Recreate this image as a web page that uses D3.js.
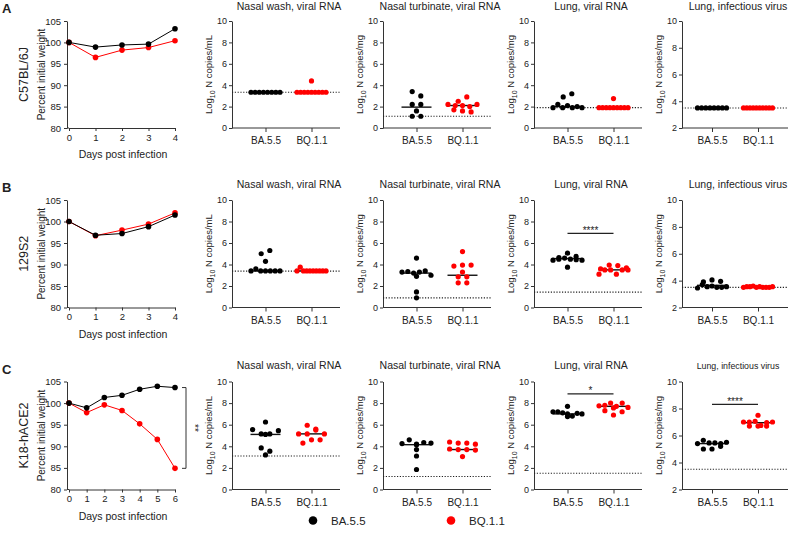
<!DOCTYPE html>
<html><head><meta charset="utf-8">
<script src="https://cdn.jsdelivr.net/npm/d3@7"></script>
<style>
body{margin:0;background:#fff}
svg{display:block}
text{font-family:"Liberation Sans",Arial,Helvetica,sans-serif;fill:#222}
</style>
</head><body>
<svg id="c" width="790" height="545"></svg>
<script>
// ---------------- data ----------------
const variants = ["BA.5.5", "BQ.1.1"];
const strains = ["C57BL/6J", "129S2", "K18-hACE2"];
const rowLetters = ["A", "B", "C"];
const panelTitles = ["Nasal wash, viral RNA", "Nasal turbinate, viral RNA", "Lung, viral RNA", "Lung, infectious virus"];
const yUnits = ["copies/mL", "copies/mg", "copies/mg", "copies/mg"];
const weightTicks = [80, 85, 90, 95, 100, 105];
const logTicks = [0, 2, 4, 6, 8, 10];
const infTicks = [2, 4, 6, 8, 10];

const daysA = [0, 1, 2, 3, 4];
const weightA_BA55 = [100, 98.9, 99.4, 99.6, 103.2];
const weightA_BQ11 = [100, 96.5, 98.2, 98.8, 100.4];
const daysB = [0, 1, 2, 3, 4];
const weightB_BA55 = [100, 96.8, 97.2, 98.8, 101.5];
const weightB_BQ11 = [100, 96.7, 98.0, 99.4, 102.0];
const daysC = [0, 1, 2, 3, 4, 5, 6];
const weightC_BA55 = [100, 98.9, 101.3, 101.8, 103.2, 103.9, 103.6];
const weightC_BQ11 = [100, 97.8, 99.6, 98.3, 95.2, 91.6, 84.9];

// Row A (C57BL/6J)
const A_wash_BA55 = [3.34, 3.34, 3.34, 3.34, 3.34, 3.34, 3.34, 3.34];
const A_wash_BQ11 = [3.34, 3.34, 3.34, 3.34, 4.4, 3.34, 3.34, 3.34, 3.34, 3.34];
const A_turb_BA55 = [1.1, 2.2, 3.4, 3.0, 1.6, 2.2, 1.1];
const A_turb_BQ11 = [2.2, 1.7, 2.1, 2.5, 2.9, 2.1, 2.0, 1.6, 2.2, 1.5];
const A_lung_BA55 = [1.9, 2.2, 2.9, 1.9, 2.1, 3.2, 1.9, 2.0, 1.9];
const A_lung_BQ11 = [1.9, 1.9, 1.9, 1.9, 2.75, 1.9, 1.9, 1.9, 1.9, 1.9];
const A_inf_BA55 = [3.5, 3.5, 3.5, 3.5, 3.5, 3.5, 3.5, 3.5];
const A_inf_BQ11 = [3.5, 3.5, 3.5, 3.5, 3.5, 3.5, 3.5, 3.5, 3.5, 3.5];
const A_lod = [3.34, 1.1, 1.9, 3.5];
const A_median = [[3.34, 3.34], [1.95, 2.1], [2.0, 1.9], [3.5, 3.5]];

// Row B (129S2)
const B_wash_BA55 = [3.4, 3.6, 3.4, 5.0, 4.3, 5.3, 3.4, 3.4, 3.4, 3.4];
const B_wash_BQ11 = [3.4, 3.75, 3.4, 3.4, 3.4, 3.4, 3.4, 3.4, 3.4, 3.4];
const B_turb_BA55 = [3.3, 3.35, 2.9, 4.6, 3.2, 3.3, 3.4, 1.45, 0.9, 3.0];
const B_turb_BQ11 = [3.85, 2.85, 5.2, 3.95, 3.3, 2.3, 2.3, 3.95, 2.85];
const B_lung_BA55 = [4.65, 4.4, 4.5, 3.75, 4.6, 4.5, 5.05, 4.45, 4.75, 4.4];
const B_lung_BQ11 = [3.6, 3.1, 3.95, 3.5, 3.9, 3.5, 3.7, 3.1, 3.5, 3.5];
const B_inf_BA55 = [3.9, 3.45, 4.05, 3.7, 3.55, 3.6, 3.5, 3.95, 3.5, 3.55];
const B_inf_BQ11 = [3.5, 3.55, 3.55, 3.6, 3.5, 3.55, 3.5, 3.5, 3.5, 3.55];
const B_lod = [3.38, 0.9, 1.43, 3.5];
const B_median = [[3.4, 3.4], [3.2, 3.0], [4.55, 3.5], [3.65, 3.5]];
const B_sig = [null, null, {value: 6.9, label: "****"}, null];

// Row C (K18-hACE2)
const C_wash_BA55 = [5.55, 5.15, 3.2, 6.25, 5.15, 3.85, 5.45, 5.1, 3.55];
const C_wash_BQ11 = [5.95, 5.15, 4.3, 5.6, 5.15, 4.6, 5.5, 5.15, 4.6];
const C_turb_BA55 = [4.25, 4.6, 4.2, 3.7, 3.1, 1.85, 4.35, 4.15, 4.3];
const C_turb_BQ11 = [4.4, 3.75, 4.3, 3.7, 3.05, 4.3, 3.7, 4.2, 3.65];
const C_lung_BA55 = [6.75, 7.2, 7.2, 7.7, 7.1, 7.0, 6.8, 7.05, 7.0];
const C_lung_BQ11 = [7.3, 7.75, 7.8, 8.0, 7.7, 6.9, 8.0, 7.55, 7.6, 7.2];
const C_inf_BA55 = [5.4, 5.0, 5.65, 5.45, 5.0, 5.45, 5.2, 5.4, 5.5];
const C_inf_BQ11 = [6.7, 7.0, 7.0, 7.5, 6.7, 7.05, 6.75, 6.95, 6.7, 7.0];
const C_lod = [3.1, 1.2, 1.5, 3.5];
const C_median = [[5.1, 5.15], [4.15, 3.7], [7.0, 7.7], [5.4, 6.95]];
const C_sig = [null, null, {value: 8.85, label: "*"}, {value: 8.3, label: "****"}];
const C_weightSig = "**";

// ---------------- drawing ----------------
const colors = ["#000000", "#ff0000"];
const svg = d3.select("#c");
const FONT = '"Liberation Sans",Arial,Helvetica,sans-serif';

const rows = [
  {top: 21, h: 107, titleY: 10, days: daysA, weights: [weightA_BA55, weightA_BQ11],
   panels: [[A_wash_BA55, A_wash_BQ11], [A_turb_BA55, A_turb_BQ11], [A_lung_BA55, A_lung_BQ11], [A_inf_BA55, A_inf_BQ11]],
   lod: A_lod, median: A_median, sig: [null, null, null, null], wsig: null, smallLast: false},
  {top: 200, h: 107.5, titleY: 188, days: daysB, weights: [weightB_BA55, weightB_BQ11],
   panels: [[B_wash_BA55, B_wash_BQ11], [B_turb_BA55, B_turb_BQ11], [B_lung_BA55, B_lung_BQ11], [B_inf_BA55, B_inf_BQ11]],
   lod: B_lod, median: B_median, sig: B_sig, wsig: null, smallLast: false},
  {top: 381.5, h: 108, titleY: 369, days: daysC, weights: [weightC_BA55, weightC_BQ11],
   panels: [[C_wash_BA55, C_wash_BQ11], [C_turb_BA55, C_turb_BQ11], [C_lung_BA55, C_lung_BQ11], [C_inf_BA55, C_inf_BQ11]],
   lod: C_lod, median: C_median, sig: C_sig, wsig: C_weightSig, smallLast: true}
];

const axisX = [232, 383, 534, 682];
const axisLen = [108, 108, 108, 106];

function styleAxis(g, fs) {
  g.selectAll("path.domain").attr("stroke", "#333").attr("stroke-width", 1);
  g.selectAll(".tick line").attr("stroke", "#333").attr("stroke-width", 1);
  g.selectAll(".tick text").attr("font-family", FONT).attr("font-size", fs).attr("fill", "#222");
}

function swarm(values, cx, y) {
  const pts = values.map((v, i) => ({v, i, py: y(v)})).sort((a, b) => a.py - b.py || a.i - b.i);
  const groups = [];
  pts.forEach(p => {
    const g = groups[groups.length - 1];
    if (g && p.py - g[0].py < 4.6) g.push(p); else groups.push([p]);
  });
  groups.forEach(g => {
    g.sort((a, b) => a.i - b.i);
    const k = g.length;
    const step = k > 1 ? Math.min(8.6, 29 / (k - 1)) : 0;
    g.forEach((p, j) => { p.px = cx + (j - (k - 1) / 2) * step; });
  });
  return pts;
}

rows.forEach((row, r) => {
  const top = row.top, bottom = row.top + row.h;

  // panel letter and strain label
  svg.append("text").attr("x", 2).attr("y", top - 8).attr("font-size", 13).attr("font-weight", "bold").text(rowLetters[r]);
  svg.append("text").attr("transform", `translate(28,${(top + bottom) / 2}) rotate(-90)`)
    .attr("text-anchor", "middle").attr("font-size", 12.5).text(strains[r]);

  // ---- weight panel ----
  const x = d3.scaleLinear().domain([0, d3.max(row.days)]).range([69, 175]);
  const y = d3.scaleLinear().domain([80, 105]).range([bottom, top]);
  const gy = svg.append("g").attr("transform", "translate(67,0)")
    .call(d3.axisLeft(y).tickValues(weightTicks).tickSize(3).tickPadding(3).tickSizeOuter(0));
  styleAxis(gy, 9.5);
  const gx = svg.append("g").attr("transform", `translate(0,${bottom})`)
    .call(d3.axisBottom(x).tickValues(row.days).tickSize(3).tickPadding(3).tickSizeOuter(0).tickFormat(d3.format("d")));
  styleAxis(gx, 9.5);
  svg.append("line").attr("x1", 67).attr("x2", 69).attr("y1", bottom).attr("y2", bottom).attr("stroke", "#333");
  svg.append("text").attr("x", 123).attr("y", bottom + 30).attr("text-anchor", "middle").attr("font-size", 10.5).text("Days post infection");
  svg.append("text").attr("transform", `translate(45,${(top + bottom) / 2}) rotate(-90)`)
    .attr("text-anchor", "middle").attr("font-size", 10).text("Percent initial weight");

  [1, 0].forEach(k => {
    const pts = row.days.map((d, i) => [d, row.weights[k][i]]);
    svg.append("path").datum(pts).attr("fill", "none").attr("stroke", colors[k]).attr("stroke-width", 1)
      .attr("d", d3.line().x(d => x(d[0])).y(d => y(d[1])));
    svg.append("g").selectAll("circle").data(pts).join("circle")
      .attr("cx", d => x(d[0])).attr("cy", d => y(d[1])).attr("r", 2.8).attr("fill", colors[k]);
  });

  if (row.wsig) {
    const last = row.days.length - 1;
    const y1 = y(row.weights[0][last]), y2 = y(row.weights[1][last]);
    const bx = 186;
    svg.append("path").attr("fill", "none").attr("stroke", "#333").attr("stroke-width", 1)
      .attr("d", `M${bx - 4},${y1}H${bx}V${y2}H${bx - 4}`);
    svg.append("text").attr("transform", `translate(${bx + 5},${(y1 + y2) / 2}) rotate(90)`)
      .attr("text-anchor", "middle").attr("font-size", 10).text(row.wsig);
  }

  // ---- scatter panels ----
  row.panels.forEach((groups, p) => {
    const ax = axisX[p], len = axisLen[p];
    const isInf = p === 3;
    const ys = d3.scaleLinear().domain(isInf ? [2, 10] : [0, 10]).range([bottom, top]);
    const xs = d3.scalePoint().domain(variants).range(isInf ? [ax + 30, ax + 76] : [ax + 33.5, ax + 79.5]);

    // title
    const small = row.smallLast && isInf;
    svg.append("text").attr("x", ax + len / 2 + 3).attr("y", row.titleY)
      .attr("text-anchor", "middle").attr("font-size", small ? 8.8 : 10.5).text(panelTitles[p]);

    // axes
    const gya = svg.append("g").attr("transform", `translate(${ax},0)`)
      .call(d3.axisLeft(ys).tickValues(isInf ? infTicks : logTicks).tickSize(3).tickPadding(2).tickSizeOuter(0));
    styleAxis(gya, 9);
    const gxa = svg.append("g").attr("transform", `translate(0,${bottom})`)
      .call(d3.axisBottom(xs).tickSize(4).tickPadding(5).tickSizeOuter(0));
    gxa.select("path.domain").remove();
    styleAxis(gxa, 10);
    svg.append("line").attr("x1", ax).attr("x2", ax + len).attr("y1", bottom).attr("y2", bottom)
      .attr("stroke", "#333").attr("stroke-width", 1);

    // y label with subscript
    const yl = svg.append("text").attr("transform", `translate(${ax - 20},${(top + bottom) / 2}) rotate(-90)`)
      .attr("text-anchor", "middle").attr("font-size", 9.5);
    yl.append("tspan").text("Log");
    yl.append("tspan").attr("font-size", 7).attr("dy", 3).text("10");
    yl.append("tspan").attr("dy", -3).text(" N " + yUnits[p]);

    // LOD line
    svg.append("line").attr("x1", ax).attr("x2", ax + len).attr("y1", ys(row.lod[p])).attr("y2", ys(row.lod[p]))
      .attr("stroke", "#222").attr("stroke-width", 1.1).attr("stroke-dasharray", "1.2,1.6");

    // median lines
    variants.forEach((v, k) => {
      const cx = xs(v), m = row.median[p][k];
      svg.append("line").attr("x1", cx - 15).attr("x2", cx + 15).attr("y1", ys(m)).attr("y2", ys(m))
        .attr("stroke", "#111").attr("stroke-width", 1.4);
    });

    // points
    variants.forEach((v, k) => {
      const pts = swarm(groups[k], xs(v), ys);
      svg.append("g").selectAll("circle").data(pts).join("circle")
        .attr("cx", d => d.px).attr("cy", d => d.py).attr("r", 2.6).attr("fill", colors[k]);
    });

    // significance bar
    const s = row.sig[p];
    if (s) {
      const by = ys(s.value);
      svg.append("line").attr("x1", xs(variants[0])).attr("x2", xs(variants[1])).attr("y1", by).attr("y2", by)
        .attr("stroke", "#222").attr("stroke-width", 1.2);
      svg.append("text").attr("x", (xs(variants[0]) + xs(variants[1])) / 2).attr("y", by + 0.5)
        .attr("text-anchor", "middle").attr("font-size", 10).text(s.label);
    }
  });
});

// ---- legend ----
const legendX = [313, 451];
variants.forEach((v, k) => {
  svg.append("circle").attr("cx", legendX[k]).attr("cy", 520.5).attr("r", 4.3).attr("fill", colors[k]);
  svg.append("text").attr("x", legendX[k] + 18).attr("y", 524.5).attr("font-size", 11.5).text(v);
});
</script>
</body></html>
